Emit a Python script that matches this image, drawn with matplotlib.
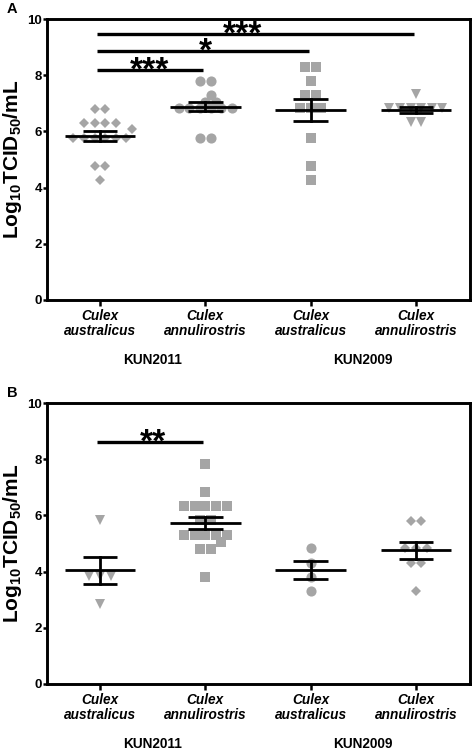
import numpy as np
import matplotlib
matplotlib.use("Agg")
import matplotlib.pyplot as plt
from matplotlib.transforms import blended_transform_factory

plt.rcParams['font.family'] = ['Liberation Sans', 'DejaVu Sans']
plt.rcParams['mathtext.fontset'] = 'custom'
plt.rcParams['mathtext.rm'] = 'Liberation Sans:bold'
plt.rcParams['mathtext.bf'] = 'Liberation Sans:bold'

# ---------------- data ----------------
categories = ["Culex\naustralicus", "Culex\nannulirostris", "Culex\naustralicus", "Culex\nannulirostris"]
strains = ["KUN2011", "KUN2009"]
yticks = [0, 2, 4, 6, 8, 10]

# Panel A values (log10 TCID50/mL)
a_aus_2011 = [6.80, 6.80, 6.29, 6.29, 6.29, 6.29, 6.07, 5.78, 5.78, 5.78, 5.78, 5.78, 5.78, 4.78, 4.78, 4.27]
a_ann_2011 = [7.79, 7.79, 7.30, 7.06, 7.06, 6.82, 6.82, 6.82, 6.82, 6.82, 6.82, 5.78, 5.78]
a_aus_2009 = [8.30, 8.30, 7.79, 7.30, 7.30, 6.82, 6.82, 6.82, 5.78, 4.78, 4.27]
a_ann_2009 = [7.32, 6.82, 6.82, 6.82, 6.82, 6.82, 6.82, 6.32, 6.32]

# Panel B values
b_aus_2011 = [5.84, 3.85, 3.85, 3.85, 2.83]
b_ann_2011 = [7.83, 6.82, 6.33, 6.33, 6.33, 6.33, 6.33, 5.84, 5.84, 5.30, 5.30, 5.30, 5.30, 5.30, 5.06, 4.79, 4.79, 3.80]
b_aus_2009 = [4.83, 4.29, 3.82, 3.31]
b_ann_2009 = [5.81, 5.81, 4.83, 4.83, 4.83, 4.29, 4.29, 3.32]

# significance comparisons: (group i, group j, bar height, label)
sig_a = [(0, 1, 8.19, "***"), (0, 2, 8.86, "*"), (0, 3, 9.45, "***")]
sig_b = [(0, 1, 8.60, "**")]
# horizontal placement of the star labels (layout, x in category units)
sig_a_label_x = [0.475, 1.0, 1.35]
sig_b_label_x = [0.50]

panel_a = [a_aus_2011, a_ann_2011, a_aus_2009, a_ann_2009]
panel_b = [b_aus_2011, b_ann_2011, b_aus_2009, b_ann_2009]
markers_a = ['D', 'o', 's', 'v']
markers_b = ['v', 's', 'o', 'D']

# ---------------- layout ----------------
W, H = 472, 751
fig = plt.figure(figsize=(W / 100, H / 100), dpi=100)
GRAY = '#a5a5a5'
XLIM = (-0.503, 3.513)
YLIM = (0, 10)


def swarm_offsets(values, ax, spacing_px=10.6, min_dist_px=8.5):
    """Row-based swarm layout computed in pixel space."""
    bbox = ax.get_window_extent()
    px_x = bbox.width / (XLIM[1] - XLIM[0])
    px_y = bbox.height / (YLIM[1] - YLIM[0])
    vals = list(values)
    uniq = sorted(set(vals), key=lambda v: (-vals.count(v), -v))
    placed = []
    result = {}
    shifts = [0.0]
    for k in range(1, 40):
        shifts += [k * spacing_px / 2, -k * spacing_px / 2]
    for v in uniq:
        n = vals.count(v)
        base = (np.arange(n) - (n - 1) / 2) * spacing_px
        ypx = v * px_y
        for s in shifts:
            xs = base + s
            ok = True
            for (px, py) in placed:
                if np.any(np.hypot(xs - px, ypx - py) < min_dist_px):
                    ok = False
                    break
            if ok:
                break
        for x in xs:
            placed.append((x, ypx))
        result[v] = list(xs / px_x)
    return np.array([result[v].pop(0) for v in vals])


def draw_panel(ax, groups, markers, sigs, sig_x, letter):
    ax.set_xlim(*XLIM)
    ax.set_ylim(*YLIM)
    sizes = {'D': 5.4, 'o': 7.3, 's': 7.0, 'v': 7.2}
    for i, (vals, m) in enumerate(zip(groups, markers)):
        vals = np.array(vals)
        off = swarm_offsets(vals, ax)
        ax.plot(i + off, vals, linestyle='none', marker=m, ms=sizes[m],
                color=GRAY, markeredgewidth=0, zorder=2)
        mean = vals.mean()
        sem = vals.std(ddof=1) / np.sqrt(len(vals))
        ax.plot([i - 0.335, i + 0.335], [mean, mean], color='black', lw=2.0, zorder=3,
                solid_capstyle='butt')
        for yv in (mean - sem, mean + sem):
            ax.plot([i - 0.165, i + 0.165], [yv, yv], color='black', lw=2.0, zorder=3,
                    solid_capstyle='butt')
        ax.plot([i, i], [mean - sem, mean + sem], color='black', lw=2.0, zorder=3)
    for (g1, g2, h, lab), lx in zip(sigs, sig_x):
        ax.plot([g1 - 0.03, g2 - 0.02], [h, h], color='black', lw=2.4,
                solid_capstyle='butt', zorder=4, clip_on=False)
        ax.text(lx, h - 0.58, lab, ha='center', va='bottom',
                fontsize=24, fontweight='bold', zorder=5)
    ax.set_yticks(yticks)
    ax.set_yticklabels([str(t) for t in yticks], fontweight='bold', fontsize=9.5)
    ax.set_xticks(range(len(categories)))
    ax.set_xticklabels(categories, fontweight='bold', fontstyle='italic', fontsize=9.8,
                       linespacing=1.1)
    ax.tick_params(axis='y', direction='out', length=3, width=1.8, pad=0.6)
    ax.tick_params(axis='x', direction='out', length=4, width=1.8, pad=2.6)
    for sp in ax.spines.values():
        sp.set_linewidth(2.1)
    ax.set_ylabel(r'$\mathbf{Log_{10}TCID_{50}/mL}$', fontsize=15, labelpad=2)
    trans = blended_transform_factory(ax.transData, ax.transAxes)
    for k, s in enumerate(strains):
        ax.annotate(s, xy=(2 * k + 0.5, 0), xycoords=trans, xytext=(0, -43),
                    textcoords='offset points', ha='center', va='center',
                    fontsize=9.8, fontweight='bold')
    ax.text(-0.083, 1.035, letter, transform=ax.transAxes, fontsize=10.5,
            fontweight='bold', ha='center', va='center')


ax_a = fig.add_axes([47 / W, 1 - 300 / H, 423 / W, 281 / H])
ax_b = fig.add_axes([47 / W, 1 - 684 / H, 423 / W, 281 / H])
draw_panel(ax_a, panel_a, markers_a, sig_a, sig_a_label_x, 'A')
draw_panel(ax_b, panel_b, markers_b, sig_b, sig_b_label_x, 'B')

fig.savefig('out.png', dpi=100)
